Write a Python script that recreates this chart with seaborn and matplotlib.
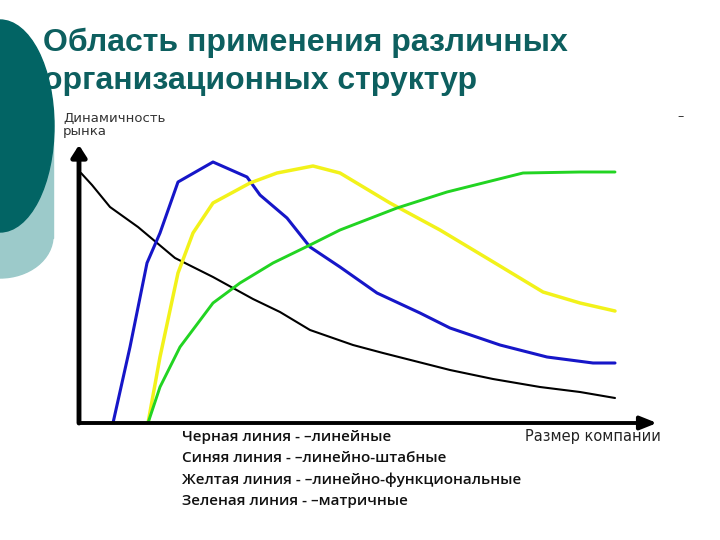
import matplotlib
matplotlib.use("Agg")
import matplotlib.pyplot as plt
import seaborn as sns
import pandas as pd
from matplotlib.patches import Ellipse, Rectangle

# values: x = company size, y = market dynamics
black_x = [2, 13, 31, 59, 96, 134, 174, 201, 231, 274, 304, 371, 414, 461, 501, 536]
black_y = [250, 238, 216, 196, 165, 146, 124, 111, 93, 78, 70, 53, 44, 36, 31, 25]

blue_x = [34, 51, 68, 81, 99, 134, 168, 181, 208, 231, 261, 298, 341, 371, 421, 468, 514, 536]
blue_y = [0, 76, 160, 190, 241, 261, 246, 228, 205, 176, 156, 130, 110, 95, 78, 66, 60, 60]

yellow_x = [69, 81, 99, 114, 134, 171, 198, 234, 261, 311, 361, 411, 464, 501, 536]
yellow_y = [0, 66, 150, 190, 220, 240, 250, 257, 250, 220, 193, 163, 131, 120, 112]

green_x = [69, 81, 101, 134, 161, 194, 231, 261, 318, 368, 444, 501, 536]
green_y = [0, 36, 76, 120, 140, 160, 178, 193, 215, 231, 250, 251, 251]

title_lines = ["Область применения различных", "организационных структур"]
y_label = "Динамичность\nрынка"
x_label = "Размер компании"
legend_lines = [
    "Черная линия - –линейные",
    "Синяя линия - –линейно-штабные",
    "Желтая линия - –линейно-функциональные",
    "Зеленая линия - –матричные",
]

series = [
    ("black", black_x, black_y, "#000000", 1.5),
    ("blue", blue_x, blue_y, "#1616c8", 2.2),
    ("yellow", yellow_x, yellow_y, "#f2f21a", 2.5),
    ("green", green_x, green_y, "#22d422", 2.1),
]

sns.set_style("white")
plt.rcParams['font.family'] = ['DejaVu Sans']

W, H = 720, 540
fig = plt.figure(figsize=(7.2, 5.4), dpi=100)

# background layer in pixel coordinates (title, decoration, labels)
bg = fig.add_axes([0, 0, 1, 1], zorder=0)
bg.set_xlim(0, W)
bg.set_ylim(H, 0)
bg.axis("off")

teal = "#0d5f5f"
for i, line in enumerate(title_lines):
    bg.text(43, 43 + i * 38, line, color=teal, fontsize=23, fontweight="bold",
            family="Liberation Sans", va="center", ha="left")

# slide decoration on the left
bg.add_patch(Rectangle((0, 120), 53, 118, color="#9ccaca", zorder=5))
bg.add_patch(Ellipse((0, 236), 106, 84, color="#9ccaca", zorder=5))
bg.add_patch(Ellipse((0, 126), 108, 212, color="#026464", zorder=6))

bg.text(63, 112, y_label, fontsize=9.5, va="top", ha="left", color="#333333",
        linespacing=1.0)
bg.text(661, 437, x_label, fontsize=10.5, va="center", ha="right", color="#222222")
bg.text(681, 117, "–", fontsize=9, va="center", ha="center", color="#333333")

for i, line in enumerate(legend_lines):
    bg.text(182, 437 + i * 21.5, line, fontsize=11, fontweight="semibold",
            family="Open Sans", va="center", ha="left", color="#111111")

# chart axes: data origin at pixel (79, 423)
x0, y0, x1, y1 = 79, 423, 657, 145
ax = fig.add_axes([x0 / W, (H - y0) / H, (x1 - x0) / W, (y0 - y1) / H], zorder=2)
ax.patch.set_alpha(0)
for _, xs, ys, col, lw in series:
    df = pd.DataFrame({"size": xs, "dyn": ys})
    sns.lineplot(data=df, x="size", y="dyn", color=col, linewidth=lw,
                 estimator=None, sort=False, ax=ax)
ax.set_xlim(0, x1 - x0)
ax.set_ylim(0, y0 - y1)
ax.set_xlabel("")
ax.set_ylabel("")
ax.set_xticks([])
ax.set_yticks([])
sns.despine(ax=ax, left=True, bottom=True)

# axis arrows
ax.annotate("", xy=(0, 1), xytext=(0, 0), xycoords="axes fraction",
            arrowprops=dict(arrowstyle="-|>,head_length=0.7,head_width=0.45",
                            color="black", lw=3.5, shrinkA=0, shrinkB=0))
ax.annotate("", xy=(1, 0), xytext=(0, 0), xycoords="axes fraction",
            arrowprops=dict(arrowstyle="-|>,head_length=1.0,head_width=0.4",
                            color="black", lw=2.8, shrinkA=0, shrinkB=0))

fig.savefig("out.png", dpi=100)
